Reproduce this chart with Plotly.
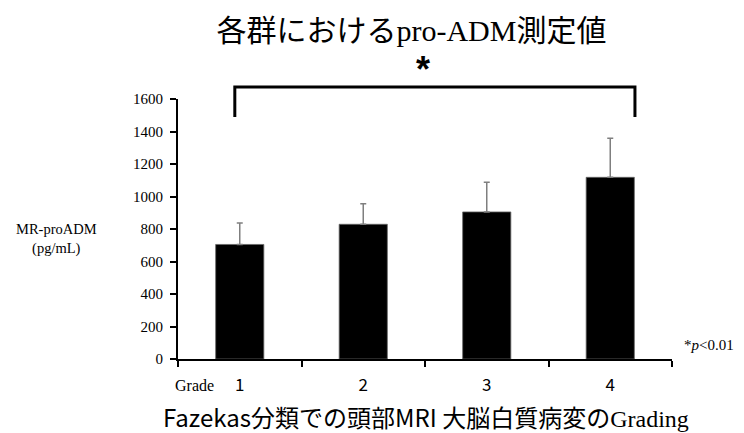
import plotly.graph_objects as go

grades = ["1", "2", "3", "4"]
means = [705, 829, 905, 1118]
sd_upper = [132, 127, 182, 240]
y_ticks = [0, 200, 400, 600, 800, 1000, 1200, 1400, 1600]

SERIF = "Liberation Serif, Times New Roman, serif"
CJK = "Noto Sans CJK JP, Noto Sans, sans-serif"

fig = go.Figure()
fig.add_trace(go.Bar(
    x=grades, y=means,
    marker=dict(color="black", line=dict(color="#666666", width=0.8)),
    error_y=dict(type="data", array=sd_upper, arrayminus=[0] * len(sd_upper),
                 symmetric=False, color="#7f7f7f", thickness=1.5, width=3),
    showlegend=False,
))

fig.update_layout(
    width=744, height=433, autosize=False,
    margin=dict(l=178, r=72, t=99, b=74),
    paper_bgcolor="white", plot_bgcolor="white",
    bargap=0.61,
    title=dict(
        text="各群における<span style=\"font-family:'Liberation Serif'\">pro-ADM</span>測定値",
        x=0.553, xanchor="center", y=0.93, yanchor="middle",
        font=dict(family=CJK, size=30, color="black"),
    ),
    xaxis=dict(
        type="category", tickson="boundaries", ticks="outside", ticklen=6,
        tickwidth=2, tickcolor="black", showline=True, linecolor="black",
        linewidth=2, showgrid=False, zeroline=False, ticklabelstandoff=10,
        automargin=False,
        tickfont=dict(family=CJK, size=17, color="black"),
    ),
    yaxis=dict(
        range=[0, 1600], tickvals=y_ticks, ticks="outside", ticklen=6,
        tickwidth=2, tickcolor="black", showline=True, linecolor="black",
        linewidth=2, showgrid=False, zeroline=False, ticklabelstandoff=4,
        automargin=False,
        tickfont=dict(family=SERIF, size=15, color="black"),
    ),
    shapes=[
        dict(type="path", xref="paper", yref="paper",
             path="M 0.115 0.931 L 0.115 1.046 L 0.925 1.046 L 0.925 0.931",
             line=dict(color="black", width=3)),
    ],
    annotations=[
        dict(text="Fazekas分類での頭部MRI 大脳白質病変の<span style=\"font-family:'Liberation Serif'\">Grading</span>",
             xref="paper", yref="paper", x=0.502, y=-0.22,
             showarrow=False, xanchor="center", yanchor="middle",
             font=dict(family=CJK, size=24, color="black")),
        dict(text="<b>*</b>", xref="paper", yref="paper", x=0.496, y=1.115,
             showarrow=False, xanchor="center", yanchor="middle",
             font=dict(family="Liberation Sans, Arial, sans-serif", size=36, color="black")),
        dict(text="MR-proADM<br>(pg/mL)", xref="paper", yref="paper",
             x=-0.245, y=0.46, showarrow=False, xanchor="center", yanchor="middle",
             font=dict(family=SERIF, size=14.5, color="black")),
        dict(text="Grade", xref="paper", yref="paper", x=-0.01, y=-0.1,
             showarrow=False, xanchor="left", yanchor="middle",
             font=dict(family=SERIF, size=16, color="black")),
        dict(text="*<i>p</i>&lt;0.01", xref="paper", yref="paper", x=1.02, y=0.055,
             showarrow=False, xanchor="left", yanchor="middle",
             font=dict(family=SERIF, size=15, color="black")),
    ],
)

fig.write_html("out.html", config={"displayModeBar": False},
               post_script="document.body.style.margin='0';")
